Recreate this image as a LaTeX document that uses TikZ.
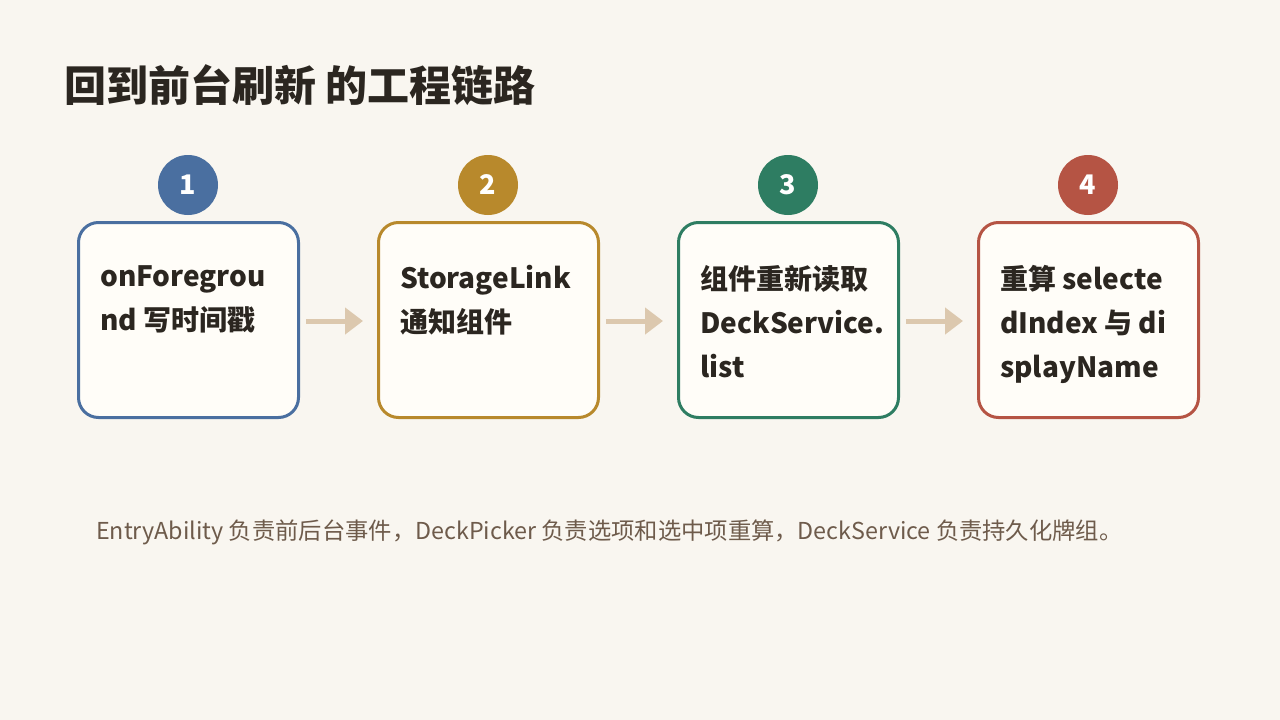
\documentclass[tikz,border=0pt]{standalone}
\usepackage{fontspec}
\setmainfont{Noto Sans CJK SC}
\usetikzlibrary{arrows.meta}
\definecolor{bg}{HTML}{F9F6F0}
\definecolor{boxfill}{HTML}{FFFDF8}
\definecolor{titlec}{HTML}{2B2620}
\definecolor{c1}{HTML}{4A6FA0}
\definecolor{c2}{HTML}{B8892C}
\definecolor{c3}{HTML}{2E7D62}
\definecolor{c4}{HTML}{B55444}
\definecolor{arrowc}{HTML}{DCC8AE}
\definecolor{notec}{HTML}{6E5B4B}
\tikzset{
  stepbox/.style={draw=#1, line width=3pt, fill=boxfill, rounded corners=20pt, minimum width=220pt, minimum height=195pt, anchor=north west, inner sep=0pt, outer sep=0pt},
  badge/.style={circle, fill=#1, minimum size=60pt, inner sep=0pt, text=white, font=\bfseries\fontsize{27}{30}\selectfont},
  boxtext/.style={anchor=north west, align=left, inner sep=0pt, text=titlec, font=\bfseries\fontsize{28}{44}\selectfont},
  flow/.style={draw=arrowc, line width=5pt, -{Triangle[length=18pt,width=26pt]}}
}
\begin{document}
\begin{tikzpicture}[x=1pt,y=-1pt]
\fill[bg] (0,0) rectangle (1280,720);
\useasboundingbox (0,0) rectangle (1280,720);
\node[anchor=base west, inner sep=0pt, text=titlec, font=\bfseries\fontsize{42}{50}\selectfont] (title) at (64,101) {回到前台刷新 的工程链路};

\node[stepbox=c1] (b1) at (78.5,222.5) {};
\node[stepbox=c2] (b2) at (378.5,222.5) {};
\node[stepbox=c3] (b3) at (678.5,222.5) {};
\node[stepbox=c4] (b4) at (978.5,222.5) {};

\node[badge=c1] (n1) at (188,185) {1};
\node[badge=c2] (n2) at (488,185) {2};
\node[badge=c3] (n3) at (788,185) {3};
\node[badge=c4] (n4) at (1088,185) {4};

\node[boxtext] (t1) at (100,265) {onForegrou\\nd 写时间戳};
\node[boxtext] (t2) at (400,265) {StorageLink\\通知组件};
\node[boxtext] (t3) at (700,265) {组件重新读取\\DeckService.\\list};
\node[boxtext] (t4) at (1000,265) {重算 selecte\\dIndex 与 di\\splayName};

\coordinate (a1s) at (306,321); \coordinate (a1e) at (363,321);
\coordinate (a2s) at (606,321); \coordinate (a2e) at (663,321);
\coordinate (a3s) at (906,321); \coordinate (a3e) at (963,321);
\draw[flow] (a1s) -- (a1e);
\draw[flow] (a2s) -- (a2e);
\draw[flow] (a3s) -- (a3e);

\node[anchor=base west, inner sep=0pt, text=notec, font=\fontsize{23.3}{28}\selectfont] (note) at (96,539) {EntryAbility 负责前后台事件，DeckPicker 负责选项和选中项重算，DeckService 负责持久化牌组。};
\end{tikzpicture}
\end{document}
